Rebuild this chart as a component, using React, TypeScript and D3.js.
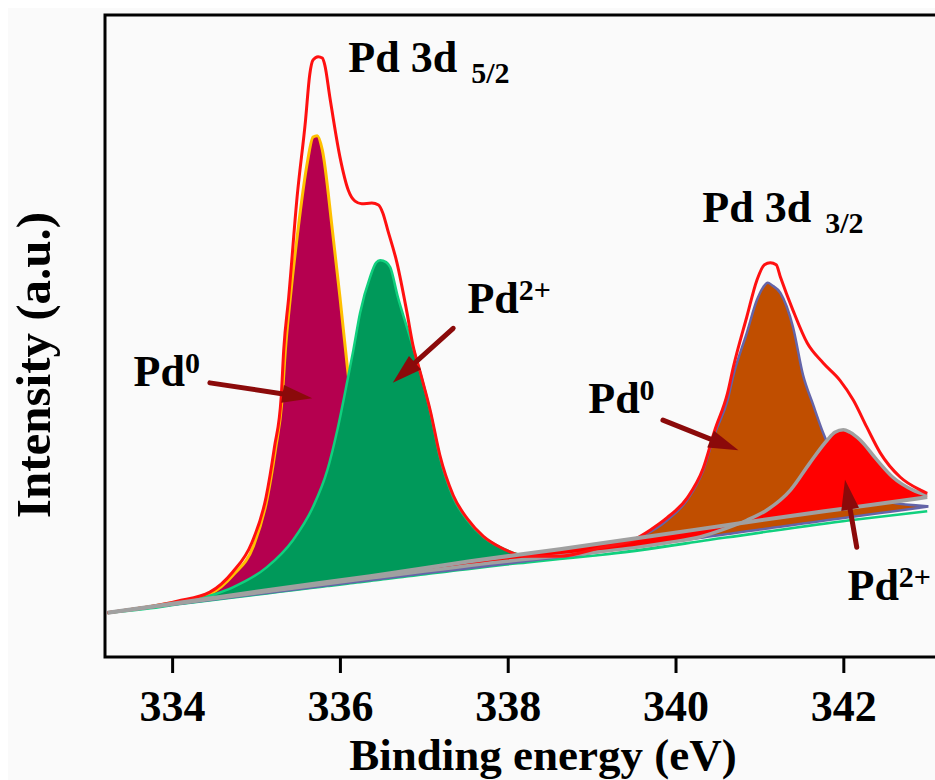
import React, { useEffect, useRef } from "react";
import * as d3 from "d3";

type Pt = [number, number];

// binding energy (eV) vs intensity (a.u., 0-100 of the frame height)
const ticks = [334, 336, 338, 340, 342];

const background: Pt[] = [
  [333.23, 6.9], [334.06, 8.4], [335.13, 10.4], [336.36, 12.6], [337.55, 14.9],
  [338.62, 16.8], [339.7, 18.8], [340.85, 21.0], [342.0, 23.1], [343.0, 24.9],
];
const greenBase: Pt[] = [[333.23, 6.9], [337.91, 14.3], [339.1, 15.9], [342.08, 21.3], [343.0, 22.7]];
const blueBase: Pt[] = [[333.23, 6.9], [339.1, 16.4], [342.08, 21.8], [343.0, 23.4]];

// Pd 3d5/2 , Pd0
const pd0Low: Pt[] = [
  [333.23, 6.9], [334.06, 8.6], [334.45, 9.8], [334.73, 12.8], [334.97, 17.3], [335.13, 24.5],
  [335.23, 32.2], [335.31, 40.0], [335.35, 47.8], [335.41, 56.1], [335.5, 66.5], [335.61, 76.9],
  [335.68, 81.0], [335.73, 81.2], [335.79, 79.0], [335.91, 66.5], [336.0, 56.1], [336.09, 45.0],
  [336.18, 35.4], [336.3, 26.0], [336.48, 18.2], [336.72, 14.3], [337.19, 14.2], [338.23, 16.1],
];
// Pd 3d5/2 , Pd2+
const pd2Low: Pt[] = [
  [333.23, 6.9], [334.49, 9.7], [334.73, 10.9], [335.13, 14.0], [335.44, 18.2], [335.68, 23.4],
  [335.85, 29.1], [335.97, 35.4], [336.09, 43.1], [336.16, 47.8], [336.24, 53.6], [336.36, 59.2],
  [336.43, 61.4], [336.48, 61.8], [336.55, 61.5], [336.6, 60.7], [336.69, 56.1], [336.81, 50.9],
  [336.96, 44.2], [337.08, 38.0], [337.19, 31.2], [337.35, 24.9], [337.52, 21.3], [337.71, 18.7],
  [337.91, 17.1], [338.23, 15.7], [338.62, 15.4], [339.1, 15.9], [340.6, 18.6], [342.08, 21.3],
  [343.0, 22.7],
];
// Pd 3d3/2 , Pd0
const pd0High: Pt[] = [
  [333.23, 6.9], [335.13, 10.0], [337.19, 13.3], [338.62, 15.6], [339.1, 16.5], [339.34, 17.6],
  [339.58, 18.7], [339.9, 21.3], [340.14, 24.5], [340.33, 29.1], [340.47, 34.9], [340.62, 40.0],
  [340.69, 43.9], [340.85, 50.5], [340.97, 55.6], [341.04, 57.5], [341.1, 58.3], [341.15, 57.9],
  [341.25, 56.7], [341.4, 51.4], [341.52, 43.9], [341.64, 39.3], [341.76, 34.9], [341.96, 29.4],
  [342.2, 26.0], [342.56, 24.1], [343.0, 23.5],
];
// Pd 3d3/2 , Pd2+
const pd2High: Pt[] = [
  [333.23, 6.9], [335.13, 10.2], [336.36, 12.3], [337.91, 14.8], [339.1, 16.4], [339.49, 17.0],
  [339.9, 17.8], [340.29, 18.7], [340.62, 20.1], [340.85, 21.3], [341.09, 22.9], [341.37, 26.0],
  [341.6, 30.2], [341.81, 33.8], [341.9, 35.0], [342.0, 35.4], [342.08, 35.0], [342.2, 33.8],
  [342.4, 30.7], [342.59, 28.0], [342.83, 26.0], [343.0, 25.2],
];
// measured envelope
const envelope: Pt[] = [
  [333.23, 6.9], [334.06, 8.7], [334.45, 10.1], [334.72, 13.2], [334.95, 17.8], [335.12, 24.9],
  [335.22, 32.7], [335.3, 40.5], [335.33, 47.8], [335.39, 56.1], [335.49, 71.7], [335.59, 83.6],
  [335.64, 90.7], [335.68, 93.0], [335.74, 93.5], [335.79, 93.3], [335.82, 92.2], [335.88, 87.2],
  [336.0, 77.9], [336.1, 72.7], [336.18, 71.0], [336.26, 70.6], [336.38, 70.7], [336.46, 70.4],
  [336.51, 69.2], [336.57, 66.5], [336.68, 61.4], [336.8, 53.6], [336.87, 48.6], [336.96, 44.2],
  [337.08, 38.2], [337.19, 31.5], [337.35, 25.2], [337.52, 21.5], [337.71, 18.8], [337.91, 17.1],
  [338.23, 15.7], [338.62, 15.7], [339.1, 17.0], [339.49, 18.2], [339.7, 19.8], [339.9, 21.7],
  [340.14, 24.8], [340.33, 29.4], [340.47, 35.4], [340.62, 41.1], [340.69, 45.2], [340.85, 53.0],
  [340.97, 58.7], [341.06, 61.1], [341.13, 61.4], [341.2, 61.1], [341.25, 59.2], [341.4, 54.0],
  [341.57, 48.9], [341.76, 45.8], [341.96, 43.1], [342.12, 40.0], [342.28, 35.8], [342.44, 31.8],
  [342.68, 28.0], [342.92, 26.0], [343.0, 25.5],
];

// annotation arrows: [from, to] in data units
const arrows: [Pt, Pt][] = [
  [[334.45, 42.7], [335.67, 40.3]],
  [[337.35, 51.2], [336.63, 42.7]],
  [[339.85, 36.9], [340.75, 32.2]],
  [[342.16, 17.1], [342.02, 27.6]],
];
const stateLabels: { at: Pt; sup: string }[] = [
  { at: [333.54, 42.2], sup: "0" },
  { at: [337.52, 53.6], sup: "2+" },
  { at: [338.96, 38.0], sup: "0" },
  { at: [342.05, 8.9], sup: "2+" },
];
const orbitalLabels: { at: Pt; sub: string }[] = [
  { at: [336.1, 91.1], sub: "5/2" },
  { at: [340.32, 67.8], sub: "3/2" },
];

const FONT = "'Liberation Serif', 'Times New Roman', serif";
const ARROW = "#8b0a0a";

function App() {
  const axisRef = useRef<SVGGElement>(null);
  const x = d3.scaleLinear().domain([333.2, 343.2]).range([105, 944]);
  const y = d3.scaleLinear().domain([0, 100]).range([657, 15]);

  useEffect(() => {
    const g = d3.select(axisRef.current);
    g.call(
      d3.axisBottom(x).tickValues(ticks).tickFormat(d3.format("d")).tickSize(16).tickSizeOuter(0).tickPadding(17)
    );
    g.select(".domain").remove();
    g.selectAll(".tick line").attr("stroke", "#000").attr("stroke-width", 3);
    g.selectAll(".tick text")
      .attr("font-size", 44)
      .attr("font-weight", "bold")
      .attr("font-family", FONT)
      .attr("fill", "#000");
  }, []);

  const line = d3.line<Pt>().x(d => x(d[0])).y(d => y(d[1])).curve(d3.curveMonotoneX);
  const area = (pts: Pt[], base: Pt[]) => {
    const b = d3.scaleLinear().domain(base.map(p => p[0])).range(base.map(p => p[1]));
    return d3.area<Pt>().x(d => x(d[0])).y0(d => y(b(d[0]))).y1(d => y(d[1])).curve(d3.curveMonotoneX)(pts) || "";
  };

  const arrow = ([from, to]: [Pt, Pt], i: number) => {
    const x0 = x(from[0]), y0 = y(from[1]), x1 = x(to[0]), y1 = y(to[1]);
    const len = Math.hypot(x1 - x0, y1 - y0);
    const ux = (x1 - x0) / len, uy = (y1 - y0) / len;
    const hl = 30, hw = 9;
    const bx = x1 - ux * hl, by = y1 - uy * hl;
    return (
      <g key={i}>
        <line x1={x0} y1={y0} x2={bx + ux * 4} y2={by + uy * 4} stroke={ARROW} strokeWidth={5} strokeLinecap="round" />
        <polygon
          points={`${x1},${y1} ${bx - uy * hw},${by + ux * hw} ${bx + uy * hw},${by - ux * hw}`}
          fill={ARROW}
        />
      </g>
    );
  };

  return (
    <svg width={935} height={780} style={{ position: "absolute", left: 0, top: 0 }} fontFamily={FONT}>
      <rect width={935} height={780} fill="#fff" />
      <rect x={8} y={8} width={927} height={772} fill="#fafafa" />

      <path d={area(pd0Low, background)} fill="#b5004f" />
      <path d={line(pd0Low) || ""} fill="none" stroke="#ffc000" strokeWidth={3} />
      <path d={area(pd2Low, greenBase)} fill="#00995a" stroke="#10d07e" strokeWidth={2.5} />
      <path d={area(pd0High, blueBase)} fill="#c04e00" stroke="#6464a8" strokeWidth={2.5} />
      <path d={area(pd2High, background)} fill="#ff0000" />
      <path d={line(pd2High) || ""} fill="none" stroke="#a0a0a0" strokeWidth={3.5} />
      <path d={line(envelope) || ""} fill="none" stroke="#ff1010" strokeWidth={3} />
      <path d={line(background) || ""} fill="none" stroke="#a0a0a0" strokeWidth={4} />

      {arrows.map(arrow)}

      <g fontWeight="bold" fill="#000">
        {stateLabels.map((l, i) => (
          <text key={i} x={x(l.at[0])} y={y(l.at[1])} fontSize={44}>
            Pd<tspan fontSize={30} dy={-13}>{l.sup}</tspan>
          </text>
        ))}
        {orbitalLabels.map((l, i) => (
          <text key={i} x={x(l.at[0])} y={y(l.at[1])} fontSize={44}>
            Pd 3d<tspan fontSize={30} dx={14} dy={11}>{l.sub}</tspan>
          </text>
        ))}
      </g>

      <rect x={105} y={15} width={900} height={642} fill="none" stroke="#000" strokeWidth={3} />
      <g ref={axisRef} transform="translate(0,657)" />

      <text x={543} y={770} textAnchor="middle" fontSize={45} fontWeight="bold">
        Binding energy (eV)
      </text>
      <text transform="translate(50,365) rotate(-90)" textAnchor="middle" fontSize={49} fontWeight="bold">
        Intensity (a.u.)
      </text>
    </svg>
  );
}

export default App;
